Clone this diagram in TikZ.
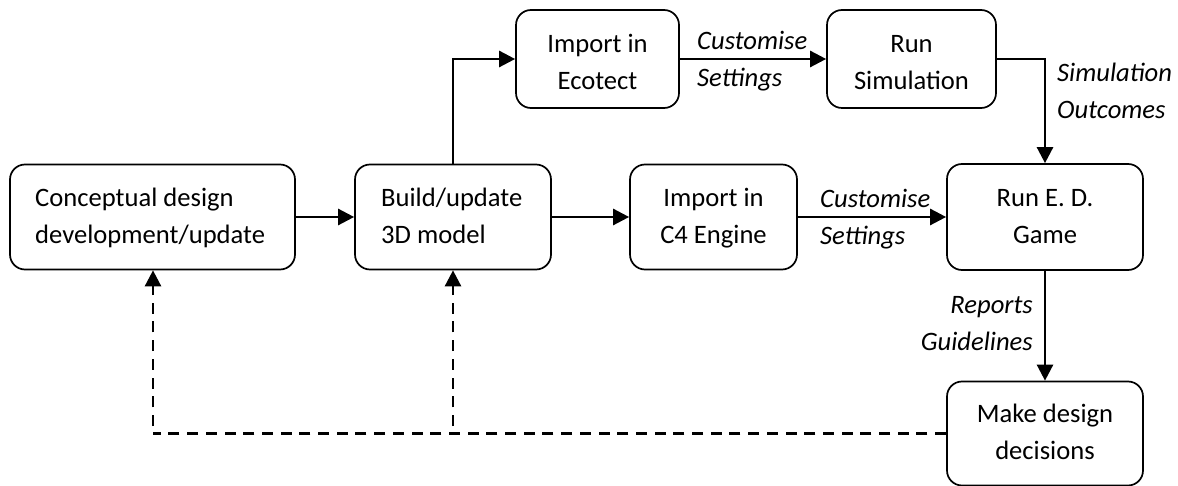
\documentclass[tikz,border=0pt]{standalone}
\usepackage{fontspec}
\setmainfont{Carlito}
\usetikzlibrary{arrows.meta}
\newcommand\hst{\rule{0pt}{20pt}}
\newcommand\dst{\rule[-6pt]{0pt}{6pt}}
\tikzset{
 px/.style={x=1pt,y=-1pt},
 box/.style={draw=black,line width=1.7pt,rounded corners=15pt,inner sep=0pt},
 txt/.style={font=\fontsize{26.6}{37}\selectfont,inner sep=0pt,align=center},
 ltxt/.style={font=\fontsize{26.6}{37}\selectfont,inner sep=0pt,align=left,anchor=west},
 lab/.style={font=\itshape\fontsize{26.6}{37}\selectfont,align=left,inner sep=0pt,anchor=west},
 rlab/.style={font=\itshape\fontsize{26.6}{37}\selectfont,align=right,inner sep=0pt,anchor=east},
 conn/.style={draw=black,line width=2.6pt,-{Triangle[length=16pt,width=16pt]}},
 dashconn/.style={conn,dash pattern=on 11pt off 7.7pt},
 dashline/.style={draw=black,line width=2.6pt,dash pattern=on 11pt off 7.7pt}
}
\begin{document}
\begin{tikzpicture}[px]
\useasboundingbox (0,0) rectangle (1178,486);
\fill[white] (0,0) rectangle (1178,486);
\node[box,minimum width=285pt,minimum height=105pt] (a) at (152.5,217) {};
\node[box,minimum width=196pt,minimum height=105pt] (b) at (453,217) {};
\node[box,minimum width=167pt,minimum height=105pt] (c) at (713.5,217) {};
\node[box,minimum width=196pt,minimum height=106pt] (d) at (1045,217) {};
\node[box,minimum width=163pt,minimum height=98pt] (e) at (597.5,59) {};
\node[box,minimum width=169pt,minimum height=98pt] (f) at (911.5,59) {};
\node[box,minimum width=196pt,minimum height=104pt] (g) at (1045,433.5) {};
\node[ltxt] (ta) at (35,218) {\hst Conceptual design\\development/update\dst};
\node[ltxt] (tb) at (381,218) {\hst Build/update\\3D model\dst};
\node[txt] (tc) at (713.5,218) {\hst Import in\\C4 Engine\dst};
\node[txt] (td) at (1045,218) {\hst Run E. D.\\Game\dst};
\node[txt] (te) at (597.5,64.5) {\hst Import in\\Ecotect\dst};
\node[txt] (tf) at (911.5,64.5) {\hst Run\\Simulation\dst};
\node[txt] (tg) at (1045,433.5) {\hst Make design\\decisions\dst};
\coordinate (k1) at (153,433.5);
\coordinate (k1up) at (153,426);
\coordinate (j1) at (453,426);
\node[lab] (l1) at (697,61.5) {\hst Customise\\Settings\dst};
\node[lab] (l2) at (820,219.5) {\hst Customise\\Settings\dst};
\node[lab] (l3) at (1057,93.5) {\hst Simulation\\Outcomes\dst};
\node[rlab] (l4) at (1033,324.5) {\hst Reports\\Guidelines\dst};
\draw[conn] (a) -- (b);
\draw[conn] (b) -- (c);
\draw[conn] (c) -- (d);
\draw[conn] (b.north) |- (e.west);
\draw[conn] (e) -- (f);
\draw[conn] (f.east) -| (d.north);
\draw[conn] (d) -- (g);
\draw[dashline] (g.west) -- (k1);
\draw[dashconn] (k1up) -- (a.south -| k1up);
\draw[dashconn] (j1) -- (b.south);
\end{tikzpicture}
\end{document}
